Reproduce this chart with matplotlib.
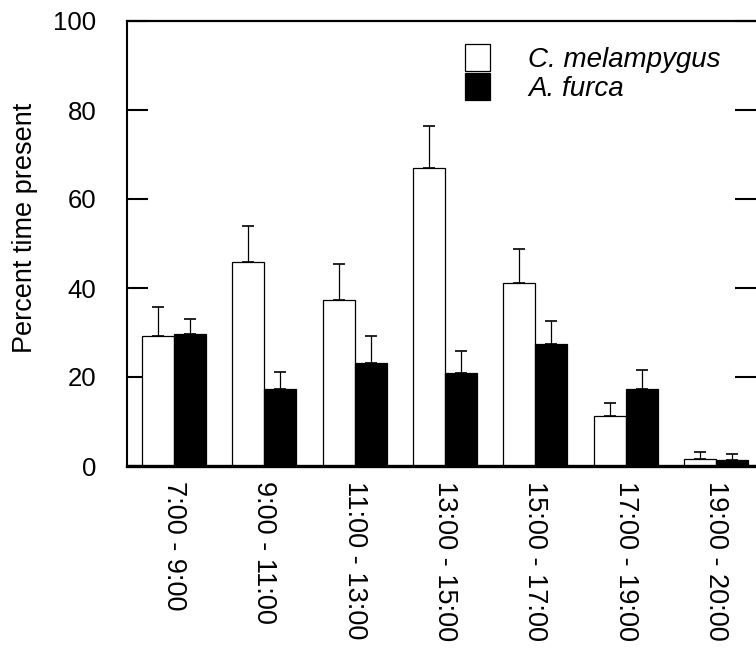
import numpy as np
import matplotlib
matplotlib.use("Agg")
import matplotlib.pyplot as plt

# data (percent time present, mean and upper SE)
periods = ["7:00 - 9:00", "9:00 - 11:00", "11:00 - 13:00", "13:00 - 15:00",
           "15:00 - 17:00", "17:00 - 19:00", "19:00 - 20:00"]
melampygus = [29.2, 45.8, 37.3, 67.0, 41.1, 11.2, 1.6]
melampygus_se = [6.5, 8.2, 8.1, 9.4, 7.6, 2.9, 1.6]
furca = [29.7, 17.3, 23.1, 20.9, 27.4, 17.3, 1.3]
furca_se = [3.3, 3.8, 6.1, 4.9, 5.2, 4.3, 1.4]
yticks = [0, 20, 40, 60, 80, 100]

plt.rcParams["font.family"] = ["Liberation Sans", "DejaVu Sans"]

fig = plt.figure(figsize=(7.56, 6.59), dpi=100)
ax = fig.add_axes([127 / 756, 1 - 466 / 659, 1 - 127 / 756, (466 - 21) / 659])

x = np.arange(len(periods))
w = 0.354
zeros = np.zeros(len(periods))

ax.bar(x - w / 2, melampygus, w, color="white", edgecolor="black", linewidth=0.9,
       label="C. melampygus", zorder=2)
ax.bar(x + w / 2, furca, w, color="black", edgecolor="black", linewidth=0.9,
       label="A. furca", zorder=2)
ax.errorbar(x - w / 2, melampygus, yerr=[zeros, melampygus_se], fmt="none",
            ecolor="black", elinewidth=0.9, capsize=4.3, capthick=1.2, zorder=1)
ax.errorbar(x + w / 2, furca, yerr=[zeros, furca_se], fmt="none",
            ecolor="black", elinewidth=0.9, capsize=4.3, capthick=1.2, zorder=1)

ax.set_xlim(-0.52, 6.443)
ax.set_ylim(0, 100)
ax.set_yticks(yticks)
ax.set_xticks(x)
ax.set_xticklabels(periods, rotation=270, ha="center", va="top", fontsize=19.5)
ax.tick_params(axis="x", length=0, pad=11)
ax.tick_params(axis="y", direction="in", length=15, width=1.5, labelsize=18.5,
               pad=22, right=True)

ax.spines["right"].set_visible(False)
ax.spines["left"].set_linewidth(1.5)
ax.spines["top"].set_linewidth(1.6)
ax.spines["bottom"].set_linewidth(2.4)

ax.set_ylabel("Percent time present", fontsize=19.5)
ax.yaxis.set_label_coords(-0.142, 0.535)

ax.legend(loc="upper left", bbox_to_anchor=(0.538, 0.948), frameon=False,
          prop={"style": "italic", "size": 20},
          handlelength=0.9, handleheight=1.12, labelspacing=0.0,
          handletextpad=1.35, borderpad=0, borderaxespad=0)

fig.savefig("out.png", dpi=100)
